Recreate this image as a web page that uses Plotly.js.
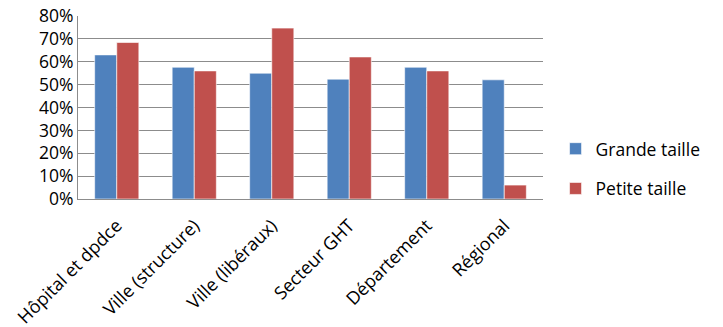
<!DOCTYPE html>
<html>
<head>
<meta charset="utf-8">
<script src="https://cdn.plot.ly/plotly-3.0.1.min.js"></script>
<style>
  html, body { margin: 0; padding: 0; background: #fff; }
  #chart { width: 723px; height: 327px; }
</style>
</head>
<body>
<div id="chart"></div>
<script>
// Catégories de coordination
const categories = [
  "Hôpital et dpdce",
  "Ville (structure)",
  "Ville (libéraux)",
  "Secteur GHT",
  "Département",
  "Régional"
];

// Part des répondants (fraction), par taille d'établissement
const grandeTaille = [0.63, 0.576, 0.55, 0.524, 0.576, 0.521];
const petiteTaille = [0.684, 0.56, 0.747, 0.621, 0.56, 0.061];

const seriesNames = ["Grande taille", "Petite taille"];
const yTickValues = [0, 0.1, 0.2, 0.3, 0.4, 0.5, 0.6, 0.7, 0.8];

const font = "Open Sans, Noto Sans, sans-serif";

const traces = [
  {
    type: "bar",
    name: seriesNames[0],
    x: categories,
    y: grandeTaille,
    legendgroup: "g1",
    marker: { color: "#4F81BD", line: { color: "rgba(255,255,255,0.6)", width: 1 } },
    hoverinfo: "skip"
  },
  {
    type: "bar",
    name: seriesNames[1],
    x: categories,
    y: petiteTaille,
    legendgroup: "g2",
    marker: { color: "#C0504D", line: { color: "rgba(255,255,255,0.6)", width: 1 } },
    hoverinfo: "skip"
  }
];

const layout = {
  width: 723,
  height: 327,
  margin: { l: 78, r: 180, t: 16, b: 128 },
  paper_bgcolor: "#ffffff",
  plot_bgcolor: "#ffffff",
  font: { family: font, size: 17, color: "#000000" },
  barmode: "group",
  bargap: 0.43,
  bargroupgap: 0,
  showlegend: true,
  legend: {
    x: 1.027,
    xanchor: "left",
    y: 0.165,
    yanchor: "middle",
    traceorder: "grouped",
    tracegroupgap: 14,
    font: { family: font, size: 17.5, color: "#000000" },
    bgcolor: "rgba(0,0,0,0)"
  },
  xaxis: {
    type: "category",
    tickangle: -45,
    showgrid: false,
    showline: true,
    linecolor: "#8c8c8c",
    linewidth: 1,
    ticks: "",
    ticklabelstandoff: 8,
    tickfont: { family: font, size: 18, color: "#000000" },
    automargin: false
  },
  yaxis: {
    range: [0, 0.8],
    tickvals: yTickValues,
    tickformat: ".0%",
    showgrid: true,
    gridcolor: "#8c8c8c",
    gridwidth: 1,
    showline: true,
    linecolor: "#8c8c8c",
    linewidth: 1,
    zeroline: false,
    ticks: "",
    ticklen: 0,
    tickfont: { family: font, size: 17.5, color: "#000000" },
    automargin: false
  }
};

Plotly.newPlot("chart", traces, layout, { staticPlot: true, displayModeBar: false });
</script>
</body>
</html>
